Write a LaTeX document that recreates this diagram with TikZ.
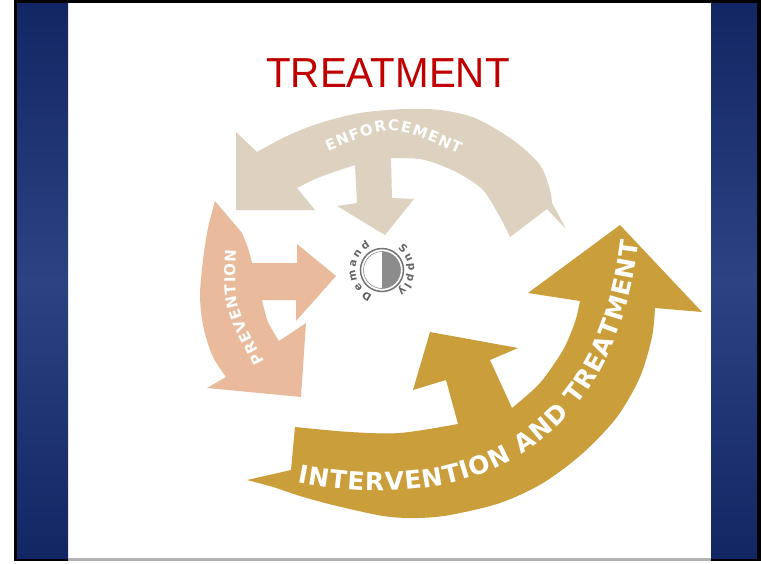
\documentclass[tikz,border=0pt]{standalone}
\usepackage{fontspec}
\newfontfamily\titlefont[FakeStretch=0.96]{Liberation Sans}
\newfontfamily\arrowfont{DejaVu Sans}
\usetikzlibrary{decorations.text}

\definecolor{enfbeige}{RGB}{221,209,191}
\definecolor{prevsalmon}{RGB}{233,187,156}
\definecolor{intgold}{RGB}{202,158,58}
\definecolor{titlered}{RGB}{192,0,0}
\definecolor{paneldark}{RGB}{19,38,100}
\definecolor{panellight}{RGB}{44,66,130}
\definecolor{labelgray}{RGB}{100,100,100}
\definecolor{halfgray}{RGB}{140,140,140}

\begin{document}
\begin{tikzpicture}[x=1pt,y=-1pt,
  bandtext/.style 2 args={decorate,decoration={text along path,text align={fit to path},
    text color=white,text={|\arrowfont\bfseries\fontsize{#1}{#1}\selectfont|#2}}},
  dstext/.style={decorate,decoration={text along path,text align={fit to path},
    text color=labelgray,text={|\arrowfont\bfseries\fontsize{10.5}{10.5}\selectfont|#1}}}]
\tikzstyle{panel}=[top color=paneldark,bottom color=paneldark,middle color=panellight]
\tikzstyle{titletext}=[anchor=base,text=titlered,font=\titlefont\fontsize{42}{42}\selectfont]
\tikzstyle{enforce}=[fill=enfbeige]
\tikzstyle{prevent}=[fill=prevsalmon]
\tikzstyle{intervene}=[fill=intgold]

\useasboundingbox (0,0) rectangle (761,563);
% frame and side panels
\fill[white] (0,0) rectangle (761,563);
\fill[black] (14,0) rectangle (761,561);
\fill[white] (17,3) rectangle (757,558);
\fill[gray!60] (68,558) rectangle (711,561);
\shade[panel] (17,3) rectangle (68,558);
\shade[panel] (711,3) rectangle (757,558);

\node[titletext] (title) at (388,87) {TREATMENT};

% enforcement
\path[enforce] (236,210) -- (236,132) -- (257,152)
  -- plot[smooth] coordinates {(257,152) (287,136) (320,123) (360,113) (405,109) (440,110) (475,118) (513,140) (540,165) (550,190) (552,203)}
  -- (566,229) -- (547,209) -- (510,237)
  -- plot[smooth] coordinates {(510,237) (500,217) (483,190) (460,174) (440,165) (420,159) (391,158)}
  -- (392,198) -- (414,199) -- (385,235) -- (337,206) -- (357,203) -- (355,165)
  -- plot[smooth] coordinates {(355,165) (320,177) (297,188)}
  -- (315,210) -- cycle;

% prevention
\path[prevent] (215,201) -- (242,233)
  -- plot[smooth] coordinates {(242,233) (248,248) (252,263)}
  -- (297,263) -- (297,244) -- (336,276) -- (296,321) -- (296,300) -- (262,300)
  -- plot[smooth] coordinates {(262,300) (268,322) (279,341)}
  -- (306,323) -- (301,397) -- (207,388) -- (226,377)
  -- plot[smooth] coordinates {(226,377) (212,355) (203,325) (200,295) (203,260) (208,228) (215,201)}
  -- cycle;

% intervention and treatment
\path[intervene] (430,332) -- (518,348) -- (490,360) -- (512,408)
  -- plot[smooth] coordinates {(512,408) (540,383) (563,350) (575,322) (580,301)}
  -- (528,293) -- (620,225) -- (702,312) -- (655,308)
  -- plot[smooth] coordinates {(655,308) (652,337) (640,377) (617,417) (583,453) (543,483) (500,503) (450,515) (417,518) (383,516) (333,505) (300,496) (273,487) (247,480)}
  -- (291,470) -- (295,427)
  -- plot[smooth] coordinates {(295,427) (350,432) (400,433) (458,424)}
  -- (446,380) -- (413,390) -- cycle;

% labels on the arrows
\path[bandtext={15}{ENFORCEMENT}] (328,151) .. controls (392,124) .. (459,154);
\path[bandtext={15}{PREVENTION}] (264,361) .. controls (234,304) .. (236,250);
\path[bandtext={25}{INTERVENTION AND TREATMENT}] (297,482) .. controls (488,520) and (616,433) .. (639,242);

% demand / supply disc
\coordinate (dsc) at (382,270);
\fill[white,draw=black!55,line width=1.5pt] (dsc) circle[radius=21.5];
\fill[halfgray] ([shift={(-90:18.5)}]dsc) arc[start angle=-90,end angle=90,radius=18.5] -- cycle;
\draw[black!45,line width=0.6pt] (dsc) circle[radius=18.5];
\path[dstext=Demand] ([shift={(111:26.5)}]dsc) arc[start angle=111,end angle=244,radius=26.5];
\path[dstext=Supply] ([shift={(-54:26.5)}]dsc) arc[start angle=-54,end angle=54,radius=26.5];
\end{tikzpicture}
\end{document}
